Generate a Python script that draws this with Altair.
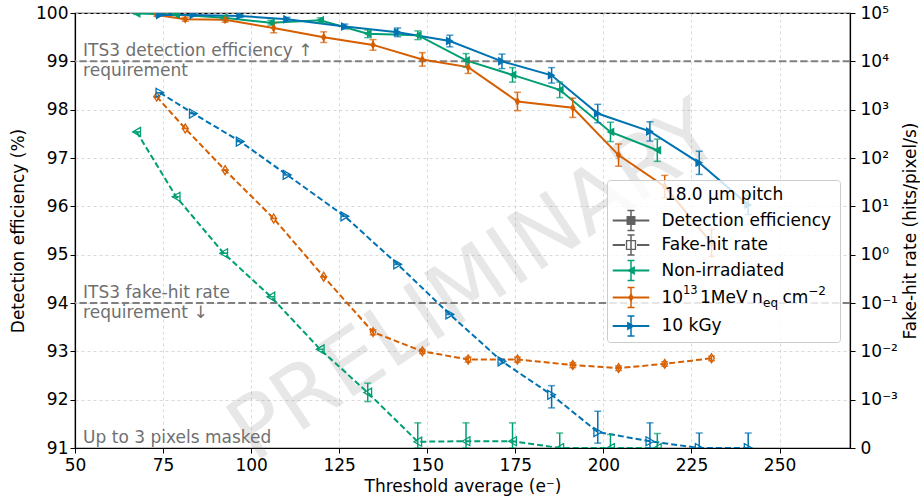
import altair as alt
import pandas as pd

# ---------------- data ----------------
series_keys = ["nonirr", "neutron", "tid"]
series_colors = ["#009E73", "#D55E00", "#0072B2"]
thin_diamond = "M0,-1L0.62,0L0,1L-0.62,0Z"
series_shapes = ["triangle-left", thin_diamond, "triangle-right"]

# threshold average (e-)
thr_nonirr = [67.5, 78.7, 92.2, 105.6, 119.6, 133.1, 147.3, 161.0, 174.2, 187.6, 202.0, 215.3]
thr_neutron = [73.2, 81.3, 92.6, 106.4, 120.6, 134.6, 148.6, 161.6, 175.6, 191.3, 204.3, 217.4, 230.7]
thr_tid = [74.1, 83.6, 96.9, 110.2, 126.6, 141.6, 156.4, 171.2, 185.3, 198.4, 213.2, 227.2, 241.1]

# detection efficiency (%) and its uncertainty
eff_nonirr = [99.99, 99.97, 99.90, 99.80, 99.85, 99.57, 99.54, 99.02, 98.72, 98.41, 97.54, 97.16]
err_nonirr = [0.02, 0.02, 0.03, 0.05, 0.05, 0.08, 0.09, 0.14, 0.15, 0.16, 0.20, 0.23]
eff_neutron = [99.96, 99.87, 99.86, 99.69, 99.50, 99.34, 99.04, 98.88, 98.17, 98.04, 97.06, 96.41, 95.24]
err_neutron = [0.03, 0.04, 0.05, 0.10, 0.11, 0.11, 0.14, 0.13, 0.19, 0.20, 0.23, 0.23, 0.28]
eff_tid = [99.96, 99.96, 99.94, 99.87, 99.72, 99.60, 99.42, 99.00, 98.71, 97.92, 97.55, 96.90, 96.03]
err_tid = [0.02, 0.02, 0.03, 0.04, 0.05, 0.09, 0.12, 0.15, 0.16, 0.19, 0.20, 0.24, 0.20]

# fake-hit rate (hits/pixel/s) with lower / upper error bounds
fhr_nonirr = [347, 15.8, 1.07, 0.135, 0.011, 0.0014, 1.3e-4, 1.4e-4, 1.4e-4, 0, 0, 0]
fhr_lo_nonirr = [347, 15.8, 1.07, 0.135, 0.011, 9.6e-4, 0, 0, 0, 0, 0, 0]
fhr_hi_nonirr = [347, 15.8, 1.07, 0.135, 0.011, 0.0022, 5.2e-4, 5.2e-4, 5.2e-4, 3.1e-4, 2.8e-4, 3.0e-4]
fhr_neutron = [1860, 407, 56, 5.6, 0.35, 0.025, 0.010, 0.0068, 0.0068, 0.0052, 0.0045, 0.0055, 0.0072]
fhr_lo_neutron = [1860, 407, 56, 5.6, 0.35, 0.022, 0.009, 0.0060, 0.0060, 0.0046, 0.0040, 0.0049, 0.0064]
fhr_hi_neutron = [1860, 407, 56, 5.6, 0.35, 0.028, 0.011, 0.0076, 0.0076, 0.0058, 0.0050, 0.0061, 0.0080]
fhr_tid = [2240, 832, 219, 44.7, 6.2, 0.63, 0.058, 0.0062, 0.00126, 3.3e-4, 1.4e-4, 0, 0]
fhr_lo_tid = [2240, 832, 219, 44.7, 6.2, 0.63, 0.058, 0.0057, 8.3e-4, 1.0e-4, 0, 0, 0]
fhr_hi_tid = [2240, 832, 219, 44.7, 6.2, 0.63, 0.058, 0.0068, 0.00195, 7.6e-4, 5.2e-4, 3.1e-4, 3.1e-4]

right_tick_labels = ["0", "10⁻³", "10⁻²", "10⁻¹", "10⁰", "10¹", "10²", "10³", "10⁴", "10⁵"]

# ---------------- tables ----------------
de_rows, fhr_rows = [], []
for key, thr, eff, err, fr, flo, fhi in [
    ("nonirr", thr_nonirr, eff_nonirr, err_nonirr, fhr_nonirr, fhr_lo_nonirr, fhr_hi_nonirr),
    ("neutron", thr_neutron, eff_neutron, err_neutron, fhr_neutron, fhr_lo_neutron, fhr_hi_neutron),
    ("tid", thr_tid, eff_tid, err_tid, fhr_tid, fhr_lo_tid, fhr_hi_tid),
]:
    for i, t in enumerate(thr):
        de_rows.append({"series": key, "thr": t, "eff": eff[i], "lo": eff[i] - err[i], "hi": eff[i] + err[i]})
        fhr_rows.append({"series": key, "thr": t, "rate": fr[i], "rlo": flo[i], "rhi": fhi[i]})
de_df = pd.DataFrame(de_rows)
fhr_df = pd.DataFrame(fhr_rows)

FONT = "DejaVu Sans"
FS = 17
GRAY_TXT = "#707070"
W, H = 775, 435

color = alt.Color("series:N", scale=alt.Scale(domain=series_keys, range=series_colors), legend=None)
shape = alt.Shape("series:N", scale=alt.Scale(domain=series_keys, range=series_shapes), legend=None)

x_scale = alt.Scale(domain=[50, 270], nice=False, zero=False)
x_axis = alt.Axis(title="Threshold average (e⁻)", values=list(range(50, 275, 25)), grid=True,
                  labelPadding=4, titlePadding=5)
y_scale = alt.Scale(domain=[91, 100], nice=False, zero=False)
y_axis = alt.Axis(title="Detection efficiency (%)", values=list(range(91, 101)), grid=True,
                  orient="left", titlePadding=8.5)
t_scale = alt.Scale(domain=[0, 9], nice=False, zero=False)
t_axis = alt.Axis(title="Fake-hit rate (hits/pixel/s)", values=list(range(0, 10)), grid=False,
                  orient="right", titleAngle=270, titleX=60, titleY=H / 2, titleAlign="center",
                  titleBaseline="middle", labelPadding=5,
                  labelExpr="%s[datum.value]" % str(right_tick_labels))

def X(f):
    return alt.X(f, scale=x_scale, axis=x_axis)

def Y(f):
    return alt.Y(f, scale=y_scale, axis=y_axis)

def T(f):
    return alt.Y(f, scale=t_scale, axis=t_axis)

# ---------- detection efficiency layer ----------
req_df = pd.DataFrame({"y": [99, 94]})
req = alt.Chart(req_df).mark_rule(color="#808080", strokeWidth=2, strokeDash=[7.4, 3.2]).encode(y=Y("y:Q"))

ann_top_df = pd.DataFrame({"x": [52.3, 52.3], "y": [99, 94],
                           "txt": ["ITS3 detection efficiency ↑", "ITS3 fake-hit rate"]})
ann_bot_df = pd.DataFrame({"x": [52.3, 52.3], "y": [99, 94],
                           "txt": ["requirement", "requirement ↓"]})
ann_top = alt.Chart(ann_top_df).mark_text(align="left", baseline="middle", font=FONT, fontSize=FS,
                                          color=GRAY_TXT, dy=-10.5).encode(x=X("x:Q"), y=Y("y:Q"), text="txt:N")
ann_bot = alt.Chart(ann_bot_df).mark_text(align="left", baseline="middle", font=FONT, fontSize=FS,
                                          color=GRAY_TXT, dy=10).encode(x=X("x:Q"), y=Y("y:Q"), text="txt:N")
mask_df = pd.DataFrame({"x": [52.3], "y": [91], "txt": ["Up to 3 pixels masked"]})
mask_txt = alt.Chart(mask_df).mark_text(align="left", baseline="bottom", font=FONT, fontSize=FS,
                                        color=GRAY_TXT, dy=-1).encode(x=X("x:Q"), y=Y("y:Q"), text="txt:N")

de_base = alt.Chart(de_df)
de_line = de_base.mark_line(strokeWidth=2, clip=True).encode(x=X("thr:Q"), y=Y("eff:Q"), color=color, detail="series:N")
de_err = de_base.mark_errorbar(ticks=True, size=7, thickness=1.5, clip=True).encode(
    x=X("thr:Q"), y=Y("lo:Q"), y2="hi:Q", color=color)
de_pts = de_base.mark_point(filled=True, size=80, opacity=1, clip=True).encode(
    x=X("thr:Q"), y=Y("eff:Q"), color=color, shape=shape)
de_layer = alt.layer(req, ann_top, ann_bot, mask_txt, de_line, de_err, de_pts)

# ---------- fake-hit rate layer (symmetric log, linear below 1e-3) ----------
def symlog(f):
    return "datum.%s < 0.001 ? datum.%s / 0.001 : 1 + log(datum.%s / 0.001) / LN10" % (f, f, f)

fhr_base = alt.Chart(fhr_df).transform_calculate(t=symlog("rate"), tlo=symlog("rlo"), thi=symlog("rhi"))
fhr_line = fhr_base.mark_line(strokeWidth=2, strokeDash=[6, 3], clip=True).encode(
    x=X("thr:Q"), y=T("t:Q"), color=color, detail="series:N")
fhr_err = fhr_base.mark_errorbar(ticks=True, size=7, thickness=1.5, clip=True).encode(
    x=X("thr:Q"), y=T("tlo:Q"), y2="thi:Q", color=color)
fhr_pts = fhr_base.mark_point(filled=False, size=80, strokeWidth=1.3, opacity=1, clip=True).encode(
    x=X("thr:Q"), y=T("t:Q"), color=color, shape=shape)
fhr_layer = alt.layer(fhr_line, fhr_err, fhr_pts)

# ---------- watermark + legend (pixel placed) ----------
OX, OY = 75, 13
one = pd.DataFrame({"k": [0]})

def txt(x, y, s, size=FS, col="black", align="left", baseline="middle", **kw):
    return alt.Chart(one).mark_text(text=s, font=FONT, fontSize=size, color=col, align=align,
                                    baseline=baseline, **kw).encode(x=alt.value(x - OX), y=alt.value(y - OY))

def seg(x1, y1, x2, y2, col, w=2, dash=None):
    mk = dict(color=col, strokeWidth=w)
    if dash:
        mk["strokeDash"] = dash
    return alt.Chart(one).mark_rule(**mk).encode(
        x=alt.value(x1 - OX), y=alt.value(y1 - OY), x2=alt.value(x2 - OX), y2=alt.value(y2 - OY))

def marker(x, y, shp, col, filled=True):
    kw = dict(shape=shp, size=80, opacity=1)
    if filled:
        kw.update(filled=True, color=col)
    else:
        kw.update(filled=False, color=col, strokeWidth=1.3)
    return alt.Chart(one).mark_point(**kw).encode(x=alt.value(x - OX), y=alt.value(y - OY))

watermark = txt(475, 283, "PRELIMINARY", size=86, col="#808080", align="center", opacity=0.18, angle=326)

LX0, LX1, LY0, LY1 = 607.5, 840.5, 180.5, 342.5
legend_parts = [
    alt.Chart(one).mark_rect(fill="white", fillOpacity=0.8, stroke="#cccccc", strokeWidth=1, cornerRadius=3).encode(
        x=alt.value(LX0 - OX), x2=alt.value(LX1 - OX), y=alt.value(LY0 - OY), y2=alt.value(LY1 - OY)),
    txt((LX0 + LX1) / 2, 195, "18.0 µm pitch", align="center"),
]
HX1, HX2, HM, TX = 612.7, 649.3, 631, 661.5
rows = [
    (220.5, "#606060", "square", True, None, "Detection efficiency"),
    (245.0, "#606060", "square", False, [6, 3], "Fake-hit rate"),
    (270.5, series_colors[0], series_shapes[0], True, None, "Non-irradiated"),
    (297.5, series_colors[1], series_shapes[1], True, None, None),
    (326.0, series_colors[2], series_shapes[2], True, None, "10 kGy"),
]
for y, col, shp, filled, dash, label in rows:
    if dash:
        legend_parts.append(seg(HX1, y, HM - 6, y, col, 2))
        legend_parts.append(seg(HM + 6, y, HX2, y, col, 2))
    else:
        legend_parts.append(seg(HX1, y, HX2, y, col, 2))
    legend_parts.append(seg(HM, y - 10, HM, y + 10, col, 1.5))
    legend_parts.append(seg(HM - 3.5, y - 10, HM + 3.5, y - 10, col, 1.5))
    legend_parts.append(seg(HM - 3.5, y + 10, HM + 3.5, y + 10, col, 1.5))
    legend_parts.append(marker(HM, y, shp, col, filled))
    if label:
        legend_parts.append(txt(TX, y, label))

# mathtext-like label: 10^13 1MeV n_eq cm^-2
ym = 297.5
legend_parts += [
    txt(TX, ym, "10"),
    txt(TX + 21.5, ym - 7, "13", size=11.5),
    txt(TX + 38.5, ym, "1MeV"),
    txt(TX + 90.5, ym, "n"),
    txt(TX + 101.5, ym + 5, "eq", size=12),
    txt(TX + 121.0, ym, "cm"),
    txt(TX + 146.8, ym - 7, "−2", size=12),
]

chart = alt.layer(watermark, de_layer, fhr_layer, *legend_parts).resolve_scale(y="independent").properties(
    width=W, height=H,
    autosize=alt.AutoSizeParams(type="none"),
    padding={"left": OX, "top": OY, "right": 70, "bottom": 53},
).configure_view(stroke="black", strokeWidth=1.2).configure_axis(
    labelFont=FONT, titleFont=FONT, labelFontSize=FS, titleFontSize=FS, titleFontWeight="normal",
    labelColor="black", titleColor="black", domainColor="black", domainWidth=1.2,
    tickColor="black", tickSize=5, tickWidth=1, gridColor="#cfcfcf", gridDash=[3, 3], gridWidth=0.8,
    labelOverlap=False, labelFlush=False,
)

chart.save("out.html", embed_options={"renderer": "svg", "actions": False})
